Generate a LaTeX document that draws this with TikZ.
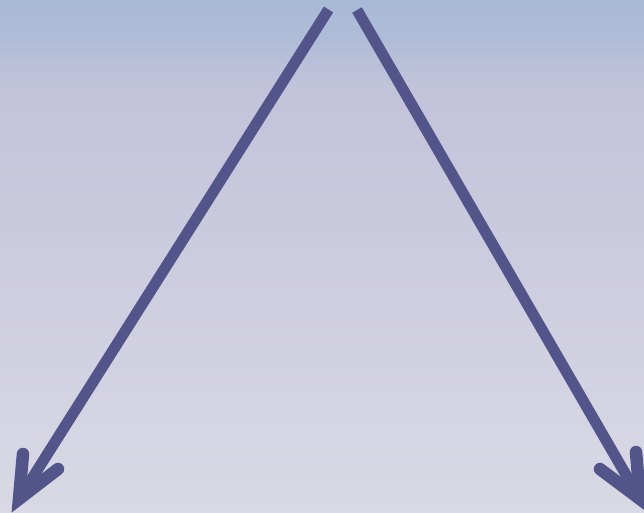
\documentclass[tikz,border=0pt]{standalone}
\begin{document}
\begin{tikzpicture}[x=1pt,y=-1pt]
\definecolor{bgA}{RGB}{168,186,214}
\definecolor{bgB}{RGB}{176,188,215}
\definecolor{bgC}{RGB}{194,195,218}
\definecolor{bgD}{RGB}{217,217,229}
\definecolor{arr}{RGB}{82,84,138}
\tikzset{
  shaft/.style={draw=arr, line width=11pt, line cap=butt},
  barb/.style={draw=arr, line width=12.5pt, line cap=round, line join=miter, miter limit=20}
}
\useasboundingbox (0,0) rectangle (644,512);
\shade[top color=bgA, bottom color=bgB] (0,0) rectangle (644,40);
\shade[top color=bgB, bottom color=bgC] (0,39.5) rectangle (644,85);
\shade[top color=bgC, bottom color=bgD] (0,84.5) rectangle (644,512);
% left arrow
\coordinate (ls) at (328.5,9.5);
\coordinate (lt) at (19,499);
\coordinate (lw1) at (23,454);
\coordinate (lw2) at (58,469);
\draw[shaft] (ls) -- (lt);
\draw[barb] (lw1) -- (lt) -- (lw2);
% right arrow
\coordinate (rs) at (357,10);
\coordinate (rt) at (640,499);
\coordinate (rw1) at (600,469);
\coordinate (rw2) at (636,452);
\draw[shaft] (rs) -- (rt);
\draw[barb] (rw1) -- (rt) -- (rw2);
\end{tikzpicture}
\end{document}
